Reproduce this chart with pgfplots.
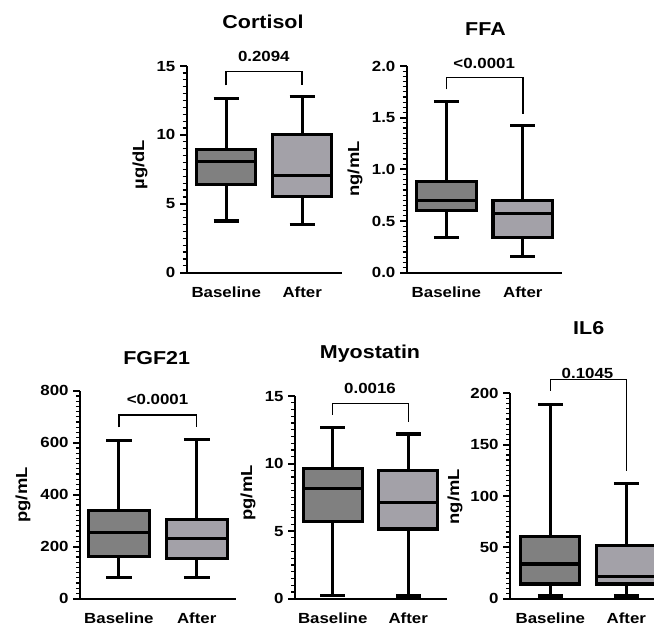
\documentclass[border=0pt]{standalone}
\usepackage{fontspec}
\setmainfont{Liberation Sans}[FakeStretch=1.15]
\usepackage{pgfplots}
\pgfplotsset{compat=1.18}
\definecolor{basecol}{RGB}{128,128,128}
\definecolor{aftcol}{RGB}{163,161,168}
\pgfplotsset{
 gp/.style={
  scale only axis, anchor=south west,
  axis x line*=bottom, axis y line*=left,
  x axis line style={line width=1.5pt,-},
  y axis line style={line width=1.5pt,-},
  xtick={0,1}, xticklabels={Baseline,After},
  major x tick style={draw=none},
  x tick label style={font=\fontsize{11}{13}\selectfont\bfseries, yshift=-2pt},
  y tick label style={font=\fontsize{11}{13}\selectfont\bfseries},
  /pgf/number format/assume math mode=true,
  tick align=outside,
  major tick length=5pt, minor tick length=3pt,
  major y tick style={line width=1.5pt, black},
  minor y tick style={line width=0.9pt, black},
  minor y tick num=9,
  ymin=0, clip=false,
 },
 wh/.style={black, line width=2.3pt, mark=none, sharp plot},
 bx/.style={draw=black, line width=2.3pt, fill=#1, mark=none, sharp plot, line join=miter},
 br/.style={black, line width=1.1pt, mark=none, sharp plot},
}
% #1 colour, #2 lower whisker, #3 Q1, #4 median, #5 Q3, #6 upper whisker
\newcommand\boxA[6]{%
 \addplot[wh] coordinates {(0,#2)(0,#3)};
 \addplot[wh] coordinates {(0,#5)(0,#6)};
 \addplot[wh] coordinates {(-0.165,#2)(0.165,#2)};
 \addplot[wh] coordinates {(-0.165,#6)(0.165,#6)};
 \addplot[bx=#1] coordinates {(-0.39,#3)(0.39,#3)(0.39,#5)(-0.39,#5)} -- cycle;
 \addplot[wh] coordinates {(-0.39,#4)(0.39,#4)};
}
\newcommand\boxB[6]{%
 \addplot[wh] coordinates {(1,#2)(1,#3)};
 \addplot[wh] coordinates {(1,#5)(1,#6)};
 \addplot[wh] coordinates {(0.835,#2)(1.165,#2)};
 \addplot[wh] coordinates {(0.835,#6)(1.165,#6)};
 \addplot[bx=#1] coordinates {(0.61,#3)(1.39,#3)(1.39,#5)(0.61,#5)} -- cycle;
 \addplot[wh] coordinates {(0.61,#4)(1.39,#4)};
}
\begin{document}
\begin{tikzpicture}
\path[use as bounding box] (0,0) rectangle (490.5pt,469.5pt);
\clip (0,0) rectangle (490.5pt,469.5pt);
% Cortisol
\begin{axis}[gp, at={(140.03pt,264.98pt)}, width=116.25pt, height=155pt,
  xmin=-0.52, xmax=1.52, ymax=15, ytick={0,5,10,15}]
\boxA{basecol}{3.75}{6.41}{8.06}{8.95}{12.66}
\boxB{aftcol}{3.51}{5.52}{7.04}{10.06}{12.82}
\addplot[br] coordinates {(0,13.6)(0,14.6)(1,14.6)(1,13.6)};
\end{axis}
% FFA
\begin{axis}[gp, at={(305.03pt,264.98pt)}, width=116.25pt, height=155pt,
  xmin=-0.52, xmax=1.51, ymax=2, ytick={0,0.5,1,1.5,2},
  yticklabel style={/pgf/number format/.cd, fixed, fixed zerofill, precision=1}]
\boxA{basecol}{0.342}{0.60}{0.70}{0.887}{1.655}
\boxB{aftcol}{0.161}{0.342}{0.571}{0.70}{1.42}
\addplot[br] coordinates {(0,1.775)(0,1.89)(1,1.89)(1,1.54)};
\end{axis}
% FGF21
\begin{axis}[gp, at={(60pt,20.48pt)}, width=117pt, height=156pt,
  xmin=-0.50, xmax=1.505, ymax=800, ytick={0,200,400,600,800}]
\boxA{basecol}{80.8}{164}{253.8}{341}{607.7}
\boxB{aftcol}{82}{155}{231}{305}{613}
\addplot[br] coordinates {(0,659)(0,706)(1,706)(1,659)};
\end{axis}
% Myostatin
\begin{axis}[gp, at={(221.25pt,20.48pt)}, width=113.8pt, height=152pt,
  xmin=-0.50, xmax=1.51, ymax=15, ytick={0,5,10,15}]
\boxA{basecol}{0.27}{5.73}{8.14}{9.65}{12.69}
\boxB{aftcol}{0.2}{5.16}{7.1}{9.47}{12.19}
\addplot[br] coordinates {(0,13.6)(0,14.46)(1,14.46)(1,13.1)};
\end{axis}
% IL6
\begin{axis}[gp, at={(382.5pt,20.48pt)}, width=116.9pt, height=154pt,
  xmin=-0.53, xmax=1.52, ymax=200, ytick={0,50,100,150,200}]
\boxA{basecol}{2.6}{14.3}{33.8}{60.4}{189.3}
\boxB{aftcol}{2.6}{14.3}{21.4}{52}{112.4}
\addplot[br] coordinates {(0,202.6)(0,213.7)(1,213.7)(1,124.4)};
\end{axis}
\begin{scope}[x=0.75pt,y=0.75pt]
\tikzset{ttl/.style={font=\fontsize{14}{16}\selectfont\bfseries},
  pv/.style={font=\fontsize{11}{13}\selectfont\bfseries},
  yl/.style={font=\fontsize{12}{14}\selectfont\bfseries, rotate=90}}
\node[ttl] at (263,604.3) {Cortisol};
\node[ttl] at (485.5,596.7) {FFA};
\node[ttl] at (156.7,267.7) {FGF21};
\node[ttl] at (370,272.7) {Myostatin};
\node[ttl] at (588.7,297.7) {IL6};
\node[pv] at (263.8,569.3) {0.2094};
\node[pv] at (484.2,562.7) {<0.0001};
\node[pv] at (157.5,226.7) {<0.0001};
\node[pv] at (370,237.7) {0.0016};
\node[pv] at (587.5,252.7) {0.1045};
\node[yl] at (140,461.3) {µg/dL};
\node[yl] at (355,457) {ng/mL};
\node[yl] at (23,131) {pg/mL};
\node[yl] at (248,133) {pg/mL};
\node[yl] at (455,129.3) {ng/mL};
\end{scope}
\end{tikzpicture}
\end{document}
